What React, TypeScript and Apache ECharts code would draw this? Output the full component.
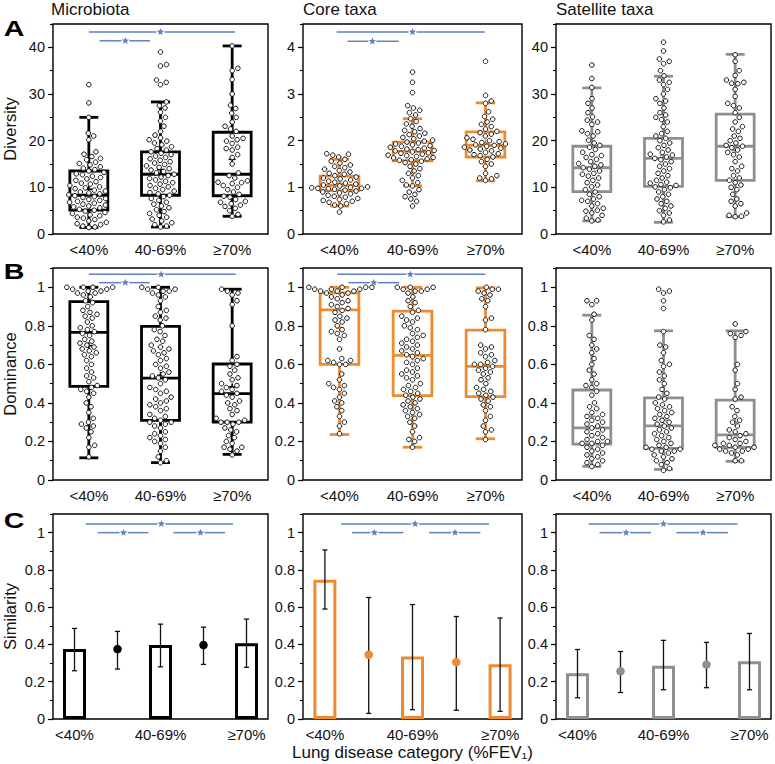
import React, { useEffect, useRef } from 'react';
import * as echarts from 'echarts';

// ---------------- DATA ----------------
const GROUPS = ['<40%', '40-69%', '≥70%'];
const SIM_SLOTS = ['<40%', '<40% vs 40-69%', '40-69%', '40-69% vs ≥70%', '≥70%'];

// box stats per group: [whiskerLow, Q1, median, Q3, whiskerHigh, mean]
const DIV_MICRO_BOX = [
  [1.4, 5.1, 8.3, 13.5, 25.0, 9.6],
  [1.5, 8.3, 12.8, 17.6, 28.3, 13.8],
  [3.8, 8.2, 12.8, 21.8, 40.3, 16.0],
];
const DIV_CORE_BOX = [
  [0.6, 0.93, 1.04, 1.24, 1.6, 1.08],
  [1.03, 1.57, 1.77, 1.97, 2.47, 1.8],
  [1.14, 1.65, 1.9, 2.19, 2.81, 1.95],
];
const DIV_SAT_BOX = [
  [2.8, 9.1, 14.2, 18.8, 31.3, 15.2],
  [2.5, 10.2, 16.2, 20.5, 33.8, 16.8],
  [3.7, 11.5, 18.8, 25.7, 38.5, 17.9],
];
const DOM_MICRO_BOX = [
  [0.115, 0.486, 0.766, 0.926, 1.0, 0.697],
  [0.09, 0.309, 0.529, 0.797, 1.0, 0.543],
  [0.133, 0.3, 0.448, 0.602, 0.99, 0.483],
];
const DOM_CORE_BOX = [
  [0.236, 0.6, 0.883, 0.971, 1.0, 0.79],
  [0.17, 0.438, 0.647, 0.876, 1.0, 0.64],
  [0.214, 0.433, 0.59, 0.778, 0.997, 0.6],
];
const DOM_SAT_BOX = [
  [0.071, 0.186, 0.27, 0.467, 0.855, 0.33],
  [0.055, 0.164, 0.281, 0.426, 0.774, 0.31],
  [0.097, 0.169, 0.234, 0.414, 0.774, 0.3],
];

// individual observations
const DIV_MICRO_LT40 = [32.0, 28.1, 25.0, 21.6, 21.0, 20.2, 17.6, 17.1, 16.6, 16.2, 15.9, 15.4, 15.1, 14.8, 14.4, 14.1, 13.8, 13.5, 13.2, 12.9, 12.7, 12.4, 12.1, 11.8, 11.5, 11.2, 10.9, 10.7, 10.4, 10.1, 9.9, 9.7, 9.4, 9.2, 9.0, 8.8, 8.6, 8.4, 8.2, 8.0, 7.8, 7.6, 7.4, 7.2, 7.0, 6.8, 6.6, 6.4, 6.2, 6.0, 5.8, 5.6, 5.3, 5.1, 4.9, 4.6, 4.4, 4.1, 3.9, 3.6, 3.4, 3.1, 2.8, 2.5, 2.2, 2.0, 1.7, 1.5, 1.4];
const DIV_MICRO_MID = [39.0, 36.3, 36.0, 33.0, 32.5, 32.0, 28.3, 27.5, 27.0, 26.1, 25.0, 24.2, 23.1, 22.0, 21.2, 20.6, 20.2, 19.9, 19.5, 19.1, 18.7, 18.3, 18.0, 17.6, 17.3, 17.0, 16.7, 16.4, 16.1, 15.8, 15.5, 15.2, 14.9, 14.6, 14.3, 14.0, 13.7, 13.4, 13.1, 12.8, 12.5, 12.2, 11.9, 11.6, 11.3, 11.0, 10.7, 10.4, 10.1, 9.8, 9.5, 9.2, 8.9, 8.6, 8.3, 8.0, 7.6, 7.2, 6.8, 6.4, 6.0, 5.6, 5.2, 4.8, 4.4, 4.0, 3.6, 3.2, 2.8, 2.4, 2.0, 1.7, 1.5];
const DIV_MICRO_GE70 = [40.3, 35.5, 35.0, 33.1, 30.0, 27.6, 26.9, 25.9, 25.0, 24.0, 23.1, 22.5, 22.0, 21.0, 20.5, 20.2, 19.9, 19.4, 18.6, 18.3, 18.0, 17.0, 16.4, 15.0, 13.1, 12.5, 12.0, 11.4, 11.1, 11.0, 10.8, 10.4, 10.0, 9.5, 9.0, 8.5, 8.1, 7.9, 7.4, 7.0, 6.8, 6.5, 6.2, 5.9, 5.5, 5.0, 4.2, 3.8];

const DIV_CORE_LT40 = [1.72, 1.71, 1.69, 1.65, 1.6, 1.56, 1.52, 1.48, 1.45, 1.42, 1.39, 1.36, 1.33, 1.3, 1.28, 1.25, 1.22, 1.2, 1.18, 1.16, 1.13, 1.11, 1.09, 1.07, 1.05, 1.03, 1.01, 1.0, 0.99, 0.98, 0.98, 0.97, 0.96, 0.94, 0.92, 0.9, 0.88, 0.86, 0.83, 0.81, 0.79, 0.76, 0.74, 0.72, 0.7, 0.68, 0.65, 0.62, 0.6, 0.47];
const DIV_CORE_MID = [3.47, 3.25, 3.03, 2.75, 2.7, 2.65, 2.6, 2.55, 2.47, 2.41, 2.36, 2.31, 2.26, 2.22, 2.19, 2.16, 2.13, 2.1, 2.07, 2.04, 2.01, 1.99, 1.97, 1.95, 1.93, 1.91, 1.89, 1.88, 1.86, 1.84, 1.82, 1.81, 1.79, 1.78, 1.76, 1.74, 1.73, 1.71, 1.69, 1.68, 1.66, 1.64, 1.63, 1.61, 1.59, 1.58, 1.56, 1.53, 1.5, 1.45, 1.4, 1.35, 1.3, 1.25, 1.2, 1.15, 1.1, 1.05, 1.03, 0.95, 0.9, 0.85, 0.8, 0.75, 0.7, 0.6];
const DIV_CORE_GE70 = [3.7, 2.97, 2.85, 2.8, 2.62, 2.52, 2.46, 2.4, 2.35, 2.3, 2.25, 2.2, 2.17, 2.14, 2.1, 2.06, 2.03, 2.0, 1.98, 1.96, 1.93, 1.91, 1.9, 1.88, 1.86, 1.84, 1.82, 1.8, 1.78, 1.75, 1.72, 1.7, 1.68, 1.65, 1.6, 1.55, 1.5, 1.45, 1.3, 1.25, 1.2, 1.18, 1.15];

const DIV_SAT_LT40 = [36.2, 33.3, 31.4, 29.0, 28.0, 27.0, 26.0, 25.1, 24.4, 24.0, 23.5, 22.1, 21.9, 21.5, 21.0, 20.1, 19.5, 19.0, 18.6, 18.1, 17.5, 17.0, 16.8, 16.4, 16.0, 15.5, 15.1, 14.8, 14.5, 14.2, 13.9, 13.5, 13.0, 12.8, 12.4, 12.0, 11.5, 11.0, 10.5, 10.1, 9.5, 9.0, 8.5, 8.0, 7.5, 7.2, 7.0, 6.5, 6.0, 5.5, 5.1, 4.9, 4.5, 4.0, 3.4, 3.0, 2.8];
const DIV_SAT_MID = [41.1, 39.2, 37.5, 37.0, 36.5, 35.0, 33.9, 33.0, 32.5, 32.0, 31.0, 30.0, 29.0, 28.5, 28.0, 27.0, 26.0, 25.5, 25.0, 24.5, 24.0, 23.0, 22.0, 21.5, 21.0, 20.5, 20.0, 19.5, 19.0, 18.5, 18.0, 17.5, 17.1, 16.9, 16.5, 16.2, 15.9, 15.5, 15.0, 14.5, 14.0, 13.5, 13.0, 12.5, 12.0, 11.5, 11.1, 10.9, 10.6, 10.4, 10.1, 9.9, 9.5, 9.0, 8.5, 8.0, 7.5, 7.0, 6.5, 6.0, 5.5, 5.0, 4.5, 4.0, 3.0, 2.6];
const DIV_SAT_GE70 = [38.4, 37.0, 35.0, 34.0, 33.0, 32.5, 32.3, 32.2, 31.0, 29.5, 28.0, 27.5, 27.0, 26.0, 25.0, 24.0, 23.0, 22.5, 22.0, 21.0, 20.5, 20.0, 19.5, 19.0, 18.8, 18.5, 18.0, 17.5, 17.0, 16.5, 15.5, 14.5, 14.0, 13.5, 12.5, 12.0, 11.5, 11.0, 10.5, 10.0, 9.5, 8.5, 7.5, 7.0, 6.5, 6.0, 4.5, 4.0, 3.8, 3.7];

const DOM_MICRO_LT40 = [1, 1, 1, 1, 0.99, 0.99, 0.98, 0.98, 0.97, 0.97, 0.96, 0.95, 0.93, 0.92, 0.9, 0.88, 0.87, 0.86, 0.85, 0.84, 0.82, 0.8, 0.79, 0.78, 0.77, 0.76, 0.75, 0.73, 0.72, 0.71, 0.7, 0.69, 0.68, 0.67, 0.66, 0.65, 0.64, 0.62, 0.6, 0.58, 0.56, 0.54, 0.53, 0.51, 0.49, 0.48, 0.47, 0.46, 0.45, 0.43, 0.4, 0.38, 0.35, 0.32, 0.3, 0.29, 0.28, 0.27, 0.25, 0.22, 0.18, 0.17, 0.12];
const DOM_MICRO_MID = [1, 1, 0.99, 0.99, 0.98, 0.98, 0.97, 0.96, 0.95, 0.93, 0.9, 0.88, 0.87, 0.85, 0.84, 0.83, 0.8, 0.78, 0.77, 0.75, 0.73, 0.72, 0.7, 0.69, 0.68, 0.67, 0.66, 0.65, 0.63, 0.62, 0.6, 0.59, 0.58, 0.56, 0.55, 0.54, 0.53, 0.52, 0.5, 0.48, 0.47, 0.46, 0.45, 0.43, 0.42, 0.41, 0.4, 0.39, 0.38, 0.37, 0.36, 0.34, 0.33, 0.32, 0.31, 0.3, 0.3, 0.29, 0.28, 0.27, 0.25, 0.24, 0.23, 0.22, 0.21, 0.2, 0.19, 0.17, 0.15, 0.12, 0.1, 0.09];
const DOM_MICRO_GE70 = [0.99, 0.98, 0.97, 0.96, 0.93, 0.91, 0.8, 0.64, 0.62, 0.6, 0.59, 0.57, 0.55, 0.53, 0.52, 0.5, 0.49, 0.48, 0.47, 0.46, 0.45, 0.44, 0.43, 0.41, 0.4, 0.39, 0.37, 0.36, 0.34, 0.32, 0.31, 0.3, 0.3, 0.3, 0.29, 0.27, 0.26, 0.25, 0.23, 0.22, 0.2, 0.19, 0.17, 0.17, 0.16, 0.15, 0.13];

const DOM_CORE_LT40 = [1, 1, 1, 1, 1, 0.99, 0.99, 0.99, 0.98, 0.98, 0.98, 0.97, 0.97, 0.96, 0.95, 0.94, 0.93, 0.92, 0.91, 0.9, 0.89, 0.88, 0.87, 0.85, 0.84, 0.83, 0.82, 0.8, 0.78, 0.77, 0.76, 0.75, 0.73, 0.68, 0.63, 0.62, 0.62, 0.61, 0.6, 0.6, 0.55, 0.52, 0.5, 0.49, 0.48, 0.47, 0.45, 0.43, 0.41, 0.4, 0.38, 0.36, 0.33, 0.3, 0.28, 0.24];
const DOM_CORE_MID = [1, 1, 1, 0.99, 0.99, 0.98, 0.98, 0.97, 0.95, 0.93, 0.92, 0.9, 0.88, 0.87, 0.85, 0.84, 0.83, 0.82, 0.8, 0.79, 0.78, 0.76, 0.75, 0.74, 0.73, 0.72, 0.71, 0.7, 0.69, 0.68, 0.67, 0.66, 0.65, 0.64, 0.63, 0.62, 0.61, 0.6, 0.58, 0.57, 0.56, 0.55, 0.54, 0.53, 0.52, 0.5, 0.49, 0.48, 0.47, 0.46, 0.45, 0.44, 0.43, 0.42, 0.41, 0.4, 0.39, 0.38, 0.37, 0.36, 0.35, 0.34, 0.33, 0.32, 0.3, 0.28, 0.25, 0.22, 0.21, 0.2, 0.17];
const DOM_CORE_GE70 = [1, 0.99, 0.99, 0.98, 0.97, 0.96, 0.94, 0.93, 0.9, 0.84, 0.83, 0.78, 0.7, 0.69, 0.68, 0.66, 0.65, 0.64, 0.62, 0.61, 0.6, 0.6, 0.59, 0.58, 0.57, 0.56, 0.55, 0.53, 0.52, 0.5, 0.48, 0.47, 0.46, 0.45, 0.44, 0.43, 0.42, 0.41, 0.39, 0.38, 0.36, 0.33, 0.31, 0.28, 0.26, 0.25, 0.21];

const DOM_SAT_LT40 = [0.93, 0.93, 0.91, 0.86, 0.83, 0.75, 0.73, 0.7, 0.68, 0.66, 0.63, 0.6, 0.57, 0.55, 0.52, 0.5, 0.49, 0.48, 0.46, 0.44, 0.4, 0.38, 0.37, 0.35, 0.34, 0.33, 0.32, 0.31, 0.3, 0.29, 0.28, 0.27, 0.26, 0.25, 0.24, 0.23, 0.22, 0.21, 0.2, 0.2, 0.19, 0.19, 0.18, 0.17, 0.16, 0.15, 0.14, 0.13, 0.12, 0.11, 0.1, 0.09, 0.08, 0.07];
const DOM_SAT_MID = [0.99, 0.98, 0.97, 0.93, 0.89, 0.77, 0.7, 0.69, 0.66, 0.62, 0.6, 0.59, 0.56, 0.54, 0.52, 0.5, 0.47, 0.45, 0.43, 0.42, 0.4, 0.39, 0.38, 0.37, 0.36, 0.35, 0.34, 0.33, 0.32, 0.31, 0.3, 0.29, 0.28, 0.27, 0.26, 0.25, 0.24, 0.23, 0.22, 0.21, 0.2, 0.19, 0.18, 0.17, 0.17, 0.16, 0.16, 0.15, 0.15, 0.14, 0.13, 0.12, 0.11, 0.1, 0.09, 0.08, 0.06, 0.05];
const DOM_SAT_GE70 = [0.81, 0.77, 0.76, 0.75, 0.74, 0.6, 0.57, 0.5, 0.47, 0.43, 0.42, 0.38, 0.36, 0.33, 0.31, 0.3, 0.28, 0.26, 0.25, 0.24, 0.23, 0.22, 0.21, 0.2, 0.19, 0.19, 0.18, 0.18, 0.17, 0.17, 0.16, 0.16, 0.15, 0.15, 0.14, 0.13, 0.1, 0.1];

// similarity: within-group (bars, even slots) and between-group (dots, odd slots)
const SIM_MICRO = [0.375, 0.375, 0.397, 0.397, 0.407];
const SIM_MICRO_LO = [0.259, 0.268, 0.28, 0.293, 0.277];
const SIM_MICRO_HI = [0.486, 0.47, 0.509, 0.493, 0.536];
const SIM_CORE = [0.747, 0.345, 0.336, 0.305, 0.294];
const SIM_CORE_LO = [0.59, 0.03, 0.05, 0.047, 0.041];
const SIM_CORE_HI = [0.907, 0.652, 0.614, 0.55, 0.542];
const SIM_SAT = [0.245, 0.256, 0.286, 0.292, 0.31];
const SIM_SAT_LO = [0.114, 0.142, 0.157, 0.168, 0.157];
const SIM_SAT_HI = [0.373, 0.362, 0.422, 0.411, 0.459];

// significance brackets: [from, to, star position, level]
const SIG_DIV_MICRO = [[0.0, 2.04, 1.0, 43.3], [0.15, 0.855, 0.51, 41.4]];
const SIG_DIV_CORE = [[-0.04, 1.99, 1.0, 4.33], [0.11, 0.81, 0.45, 4.13]];
const SIG_DOM_MICRO = [[0.0, 2.05, 1.01, 1.067], [0.145, 0.85, 0.51, 1.024]];
const SIG_DOM_CORE = [[-0.03, 2.0, 0.97, 1.067], [0.12, 0.82, 0.47, 1.024]];
const SIG_SIM_MICRO = [[0.26, 3.69, 2.02, 1.047], [0.54, 1.72, 1.14, 1.0], [2.3, 3.5, 2.93, 1.0]];
const SIG_SIM_CORE = [[0.37, 3.75, 2.06, 1.047], [0.62, 1.79, 1.13, 1.0], [2.38, 3.55, 2.97, 1.0]];
const SIG_SIM_SAT = [[0.26, 3.72, 2.0, 1.047], [0.51, 1.71, 1.13, 1.0], [2.3, 3.5, 2.92, 1.0]];

const COL_TITLES = ['Microbiota', 'Core taxa', 'Satellite taxa'];
const ROW_NAMES = ['Diversity', 'Dominance', 'Similarity'];
const ROW_LETTERS = ['A', 'B', 'C'];
const X_TITLE = 'Lung disease category (%FEV\u2081)';

// ---------------- LAYOUT / STYLE ----------------
const FONT = '"Liberation Sans", Arial, Helvetica, sans-serif';
const TXT = '#111111';
const COLORS = ['#000000', '#EE8A30', '#8F8F8F'];
const SIG_COLOR = '#5F80C2';
const COL_LEFT = [51, 303, 556];
const COL_W = [217, 219, 215];
const ROW_TOP = [24, 268, 514];
const ROW_H = [210, 212, 205];
const BOX_FRAC = 0.53;
const CAP_FRAC = 0.5;
const BOX_LW = 2.8;
const PT_SIZE = 4.6;
const SWARM_D = 6.2;
const GAP_PX = 4;

function swarm(values: number[], pxPerUnit: number, d: number): number[] {
  const order = values.map((_, i) => i).sort((a, b) => values[a] - values[b]);
  const placed: { x: number; y: number }[] = [];
  const offs = new Array(values.length).fill(0);
  for (const i of order) {
    const y = values[i] * pxPerUnit;
    const near = placed.filter((p) => Math.abs(p.y - y) < d);
    const cands = [0];
    for (const p of near) {
      const dx = Math.sqrt(Math.max(0, d * d - (p.y - y) * (p.y - y)));
      cands.push(p.x + dx, p.x - dx);
    }
    cands.sort((a, b) => Math.abs(a) - Math.abs(b));
    let chosen = 0;
    for (const c of cands) {
      if (near.every((p) => (p.x - c) * (p.x - c) + (p.y - y) * (p.y - y) >= d * d - 1e-6)) {
        chosen = c;
        break;
      }
    }
    placed.push({ x: chosen, y });
    offs[i] = chosen;
  }
  return offs;
}

function ticks(step: number, max: number): number[] {
  const out: number[] = [];
  for (let k = 0; k * step <= max + 1e-9; k++) out.push(Math.round(k * step * 1000) / 1000);
  return out;
}

const boxRenderer = (color: string) => (_params: any, api: any) => {
  const i = api.value(0);
  const lo = api.value(1), q1 = api.value(2), med = api.value(3), q3 = api.value(4), hi = api.value(5), mean = api.value(6);
  const x = api.coord([i, med])[0];
  const Y = (v: number) => api.coord([i, v])[1];
  const cat = api.size([1, 0])[0];
  const bw = cat * BOX_FRAC;
  const cw = bw * CAP_FRAC;
  const st = { stroke: color, lineWidth: BOX_LW, fill: 'none' };
  const ln = (x1: number, y1: number, x2: number, y2: number, s: any = st) => ({ type: 'line', shape: { x1, y1, x2, y2 }, style: s });
  const ms = { stroke: color, lineWidth: 1.6, fill: 'none' };
  return {
    type: 'group',
    children: [
      ln(x, Y(lo), x, Y(q1)),
      ln(x, Y(q3), x, Y(hi)),
      ln(x - cw / 2, Y(lo), x + cw / 2, Y(lo)),
      ln(x - cw / 2, Y(hi), x + cw / 2, Y(hi)),
      { type: 'rect', shape: { x: x - bw / 2, y: Y(q3), width: bw, height: Y(q1) - Y(q3) }, style: st },
      ln(x - bw / 2, Y(med), x + bw / 2, Y(med)),
      ln(x - 3.5, Y(mean), x + 3.5, Y(mean), ms),
      ln(x, Y(mean) - 3.5, x, Y(mean) + 3.5, ms),
    ],
  };
};

const errRenderer = (_params: any, api: any) => {
  const i = api.value(0);
  const lo = api.coord([i, api.value(1)]);
  const hi = api.coord([i, api.value(2)]);
  const s = { stroke: '#111', lineWidth: 1.3 };
  return {
    type: 'group',
    children: [
      { type: 'line', shape: { x1: lo[0], y1: lo[1], x2: hi[0], y2: hi[1] }, style: s },
      { type: 'line', shape: { x1: lo[0] - 2.6, y1: lo[1], x2: lo[0] + 2.6, y2: lo[1] }, style: s },
      { type: 'line', shape: { x1: hi[0] - 2.6, y1: hi[1], x2: hi[0] + 2.6, y2: hi[1] }, style: s },
    ],
  };
};

const starPts = (cx: number, cy: number, R: number, r: number) => {
  const pts: number[][] = [];
  for (let k = 0; k < 10; k++) {
    const a = -Math.PI / 2 + (k * Math.PI) / 5;
    const rad = k % 2 === 0 ? R : r;
    pts.push([cx + rad * Math.cos(a), cy + rad * Math.sin(a)]);
  }
  return pts;
};

const sigRenderer = (_params: any, api: any) => {
  const y = api.value(3);
  const p0 = api.coord([api.value(0), y]);
  const p1 = api.coord([api.value(1), y]);
  const ps = api.coord([api.value(2), y]);
  const s = { stroke: SIG_COLOR, lineWidth: 1.5 };
  return {
    type: 'group',
    children: [
      { type: 'line', shape: { x1: p0[0], y1: p0[1], x2: ps[0] - GAP_PX, y2: ps[1] }, style: s },
      { type: 'line', shape: { x1: ps[0] + GAP_PX, y1: ps[1], x2: p1[0], y2: p1[1] }, style: s },
      { type: 'polygon', shape: { points: starPts(ps[0], ps[1], 3.9, 1.7) }, style: { fill: SIG_COLOR, stroke: 'none' } },
    ],
  };
};

const ROW_A = {
  ymax: [45, 4.5, 45], major: [10, 1, 10], minor: [5, 0.5, 5],
  boxes: [DIV_MICRO_BOX, DIV_CORE_BOX, DIV_SAT_BOX],
  pts: [[DIV_MICRO_LT40, DIV_MICRO_MID, DIV_MICRO_GE70], [DIV_CORE_LT40, DIV_CORE_MID, DIV_CORE_GE70], [DIV_SAT_LT40, DIV_SAT_MID, DIV_SAT_GE70]],
  sig: [SIG_DIV_MICRO, SIG_DIV_CORE, null],
};
const ROW_B = {
  boxes: [DOM_MICRO_BOX, DOM_CORE_BOX, DOM_SAT_BOX],
  pts: [[DOM_MICRO_LT40, DOM_MICRO_MID, DOM_MICRO_GE70], [DOM_CORE_LT40, DOM_CORE_MID, DOM_CORE_GE70], [DOM_SAT_LT40, DOM_SAT_MID, DOM_SAT_GE70]],
  sig: [SIG_DOM_MICRO, SIG_DOM_CORE, null],
};
const ROW_C = {
  vals: [SIM_MICRO, SIM_CORE, SIM_SAT],
  lo: [SIM_MICRO_LO, SIM_CORE_LO, SIM_SAT_LO],
  hi: [SIM_MICRO_HI, SIM_CORE_HI, SIM_SAT_HI],
  sig: [SIG_SIM_MICRO, SIG_SIM_CORE, SIG_SIM_SAT],
};

function buildOption() {
  const grid: any[] = [];
  const xAxis: any[] = [];
  const yAxis: any[] = [];
  const series: any[] = [];
  const axisLabelBase = { color: TXT, fontFamily: FONT };
  const tickStyle = { color: '#000', width: 1.2 };
  for (let r = 0; r < 3; r++) {
    for (let c = 0; c < 3; c++) {
      const g = r * 3 + c;
      const ymax = r === 0 ? ROW_A.ymax[c] : 1.1;
      const major = r === 0 ? ROW_A.major[c] : 0.2;
      const minor = r === 0 ? ROW_A.minor[c] : 0.1;
      const nCat = r === 2 ? 5 : 3;
      grid.push({ left: COL_LEFT[c], top: ROW_TOP[r], width: COL_W[c], height: ROW_H[r], show: true, borderColor: '#000', borderWidth: 1.4, backgroundColor: 'transparent' });
      const majors = ticks(major, ymax);
      xAxis.push({
        type: 'category', gridIndex: g, position: 'bottom', data: r === 2 ? SIM_SLOTS : GROUPS,
        axisLine: { show: false, onZero: false },
        axisTick: r === 2 ? { interval: 0, alignWithLabel: false, length: 5, lineStyle: tickStyle } : { alignWithLabel: true, length: 5, lineStyle: tickStyle },
        axisLabel: { ...axisLabelBase, fontSize: 15, margin: 8, interval: r === 2 ? 1 : 0 },
        splitLine: { show: false },
        ...(r === 2 && c === 1 ? { name: X_TITLE, nameLocation: 'middle', nameGap: 25, nameTextStyle: { color: TXT, fontFamily: FONT, fontSize: 17 } } : {}),
      });
      xAxis.push({ type: 'value', gridIndex: g, position: 'top', min: -0.5, max: nCat - 0.5, show: false, axisLine: { onZero: false } });
      yAxis.push({
        type: 'value', gridIndex: g, position: 'left', min: 0, max: ymax, interval: major,
        axisLine: { show: false, onZero: false },
        axisTick: { show: true, length: 5, customValues: majors, lineStyle: tickStyle },
        axisLabel: { ...axisLabelBase, fontSize: 14.5, margin: 8, customValues: majors },
        splitLine: { show: false },
        ...(c === 0 ? { name: ROW_NAMES[r], nameLocation: 'middle', nameGap: 35, nameTextStyle: { color: TXT, fontFamily: FONT, fontSize: 16.5 } } : {}),
      });
      yAxis.push({
        type: 'value', gridIndex: g, position: 'left', offset: 0, min: 0, max: ymax, interval: minor,
        axisLine: { show: false, onZero: false }, axisLabel: { show: false }, splitLine: { show: false },
        axisTick: { show: true, length: 3, lineStyle: { color: '#000', width: 1.1 } },
      });
      const xi = 2 * g + 1;
      const yi = 2 * g;
      const color = COLORS[c];
      if (r < 2) {
        const row = r === 0 ? ROW_A : ROW_B;
        const box = row.boxes[c];
        series.push({
          type: 'custom', xAxisIndex: xi, yAxisIndex: yi, z: 2, silent: true,
          renderItem: boxRenderer(color),
          data: box.map((s, i) => [i, ...s]),
          encode: { x: 0, y: [1, 2, 3, 4, 5] },
        });
        const pxPerUnit = ROW_H[r] / ymax;
        const catPx = COL_W[c] / 3;
        const pts: number[][] = [];
        row.pts[c].forEach((vals, i) => {
          const offs = swarm(vals, pxPerUnit, SWARM_D);
          vals.forEach((v, k) => pts.push([i + offs[k] / catPx, v]));
        });
        series.push({
          type: 'scatter', xAxisIndex: xi, yAxisIndex: yi, z: 3, silent: true,
          symbol: 'circle', symbolSize: PT_SIZE,
          itemStyle: { color: '#ffffff', borderColor: '#111111', borderWidth: 1.0, opacity: 1 },
          data: pts,
        });
        const sig = row.sig[c];
        if (sig) {
          series.push({ type: 'custom', xAxisIndex: xi, yAxisIndex: yi, z: 5, silent: true, renderItem: sigRenderer, data: sig, encode: { x: [0, 1, 2], y: 3 } });
        }
      } else {
        const vals = ROW_C.vals[c];
        series.push({
          type: 'bar', xAxisIndex: 2 * g, yAxisIndex: yi, z: 2, silent: true, barWidth: 23,
          itemStyle: { color: 'rgba(255,255,255,0)', borderColor: color, borderWidth: 3 },
          data: vals.map((v, i) => (i % 2 === 0 ? v : '-')),
        });
        series.push({
          type: 'custom', xAxisIndex: xi, yAxisIndex: yi, z: 3, silent: true, renderItem: errRenderer,
          data: vals.map((_, i) => [i, ROW_C.lo[c][i], ROW_C.hi[c][i]]),
          encode: { x: 0, y: [1, 2] },
        });
        series.push({
          type: 'scatter', xAxisIndex: xi, yAxisIndex: yi, z: 4, silent: true, symbolSize: 8.5,
          itemStyle: { color, opacity: 1 },
          data: vals.map((v, i) => [i, v]).filter((_, i) => i % 2 === 1),
        });
        series.push({ type: 'custom', xAxisIndex: xi, yAxisIndex: yi, z: 5, silent: true, renderItem: sigRenderer, data: ROW_C.sig[c], encode: { x: [0, 1, 2], y: 3 } });
      }
    }
  }
  const graphic: any[] = [];
  COL_TITLES.forEach((t, c) => {
    graphic.push({ type: 'text', x: COL_LEFT[c], y: 9, style: { text: t, fontSize: 17, fontFamily: FONT, fill: TXT, align: 'left', verticalAlign: 'middle' } });
  });
  const letterY = [28, 271.5, 520.5];
  ROW_LETTERS.forEach((t, r) => {
    graphic.push({ type: 'text', x: 14, y: letterY[r], scaleX: 1.3, style: { text: t, fontSize: 22, fontWeight: 'bold', fontFamily: FONT, fill: '#000', align: 'center', verticalAlign: 'middle' } });
  });
  return { animation: false, backgroundColor: '#ffffff', grid, xAxis, yAxis, series, graphic };
}

export default function App() {
  const ref = useRef<HTMLDivElement>(null);
  useEffect(() => {
    document.body.style.margin = '0';
    if (!ref.current) return;
    const chart = echarts.init(ref.current, undefined, { renderer: 'svg' });
    chart.setOption(buildOption() as any);
    return () => chart.dispose();
  }, []);
  return <div ref={ref} style={{ width: 775, height: 764 }} />;
}
